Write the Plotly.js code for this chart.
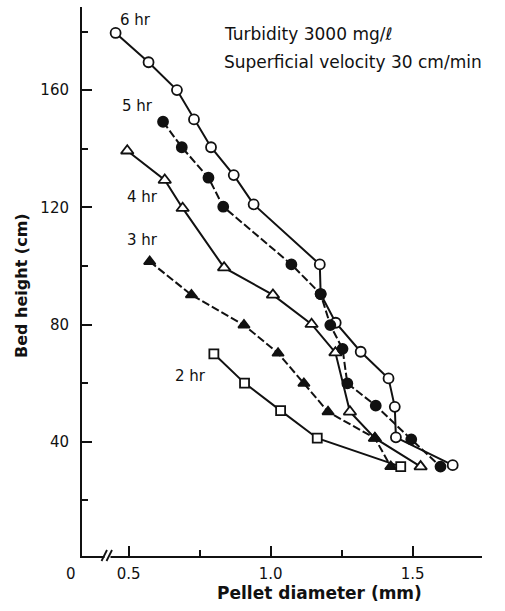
<!DOCTYPE html>
<html>
<head>
<meta charset="utf-8">
<script src="https://cdn.plot.ly/plotly-3.0.1.min.js"></script>
<style>html,body{margin:0;padding:0;background:#fff;}#chart{width:505px;height:611px;}</style>
</head>
<body>
<div id="chart"></div>
<script>
// Pellet diameter (mm) and bed height (cm) for each operating time
const x6 = [0.454, 0.57, 0.67, 0.73, 0.79, 0.87, 0.94, 1.173, 1.176, 1.229, 1.317, 1.415, 1.437, 1.441, 1.641];
const y6 = [179.5, 169.5, 160, 150, 140.5, 131, 121, 100.5, 90.4, 80.6, 70.7, 61.6, 51.9, 41.5, 32];
const x5 = [0.621, 0.687, 0.781, 0.833, 1.073, 1.176, 1.21, 1.253, 1.27, 1.37, 1.495, 1.598];
const y5 = [149.2, 140.5, 130.1, 120.2, 100.5, 90.4, 79.8, 71.7, 59.9, 52.3, 40.8, 31.5];
const x4 = [0.495, 0.627, 0.69, 0.836, 1.008, 1.144, 1.228, 1.279, 1.367, 1.528];
const y4 = [139.3, 129.3, 119.7, 99.4, 90.1, 80.1, 70.4, 50.2, 41.2, 31.5];
const x3 = [0.574, 0.721, 0.906, 1.026, 1.117, 1.202, 1.367, 1.423];
const y3 = [101.5, 90.1, 79.8, 70.2, 59.9, 50.2, 41.2, 31.5];
const x2 = [0.80, 0.908, 1.035, 1.164, 1.458];
const y2 = [70, 60, 50.6, 41.2, 31.5];

const seriesLabels = ["6 hr", "5 hr", "4 hr", "3 hr", "2 hr"];
const xTickVals = [0.5, 1.0, 1.5];
const xTickText = ["0.5", "1.0", "1.5"];
const xMinorVals = [0.75, 1.25];
const yTickVals = [40, 80, 120, 160];
const yTickText = ["40", "80", "120", "160"];
const yMinorVals = [20, 60, 100, 140, 180];
const noteLines = ["Turbidity 3000 mg/ℓ", "Superficial velocity 30 cm/min"];

const FONT = "DejaVu Sans, Verdana, sans-serif";
const LW = 2;

function tr(x, y, symbol, fill, dash, size) {
  return {
    x: x, y: y, type: "scatter", mode: "lines+markers", cliponaxis: false,
    line: {color: "#111", width: LW, dash: dash},
    marker: {symbol: symbol, size: size, color: fill, line: {color: "#111", width: 1.8}},
    showlegend: false, hoverinfo: "skip"
  };
}

const data = [
  tr(x4, y4, "triangle-up", "#fff", "solid", 11),
  tr(x3, y3, "triangle-up", "#111", "8px,3px", 10),
  tr(x2, y2, "square", "#fff", "solid", 9),
  tr(x6, y6, "circle", "#fff", "solid", 10),
  tr(x5, y5, "circle", "#111", "8px,3px", 10)
];

function px2x(px) { return 1 + (px - 270.67) / 284; }
function py2y(py) { return (558.9 - py) / 2.93; }

const labelPos = [[135, 19.5], [137, 106], [142, 197], [142, 240], [190, 376]];
const annotations = seriesLabels.map((t, i) => ({
  text: t, x: px2x(labelPos[i][0]), y: py2y(labelPos[i][1]), xref: "x", yref: "y",
  showarrow: false, xanchor: "center", yanchor: "middle",
  font: {family: FONT, size: 15, color: "#111"}
}));
annotations.push({
  text: noteLines[0], x: px2x(222), y: py2y(33.5), xref: "x", yref: "y",
  showarrow: false, xanchor: "left", yanchor: "middle",
  font: {family: FONT, size: 17, color: "#111"}
});
annotations.push({
  text: noteLines[1], x: px2x(222), y: py2y(62), xref: "x", yref: "y",
  showarrow: false, xanchor: "left", yanchor: "middle",
  font: {family: FONT, size: 17, color: "#111"}
});
// axis titles and origin label
annotations.push({
  text: "<b>Pellet diameter (mm)</b>", x: (319 - 82) / 400, y: (556 - 593) / 549,
  xref: "paper", yref: "paper", showarrow: false, xanchor: "center", yanchor: "middle",
  font: {family: FONT, size: 17, color: "#111"}
});
annotations.push({
  text: "<b>Bed height (cm)</b>", x: (21 - 82) / 400, y: (556 - 286) / 549, textangle: -90,
  xref: "paper", yref: "paper", showarrow: false, xanchor: "center", yanchor: "middle",
  font: {family: FONT, size: 16, color: "#111"}
});
annotations.push({
  text: "0", x: (71 - 82) / 400, y: (556 - 573.5) / 549,
  xref: "paper", yref: "paper", showarrow: false, xanchor: "center", yanchor: "middle",
  font: {family: FONT, size: 15, color: "#111"}
});

function pxp(px) { return (px - 82) / 400; }
function pyp(py) { return (556 - py) / 549; }
const shapes = [
  {type: "rect", xref: "paper", yref: "paper", x0: pxp(104.5), x1: pxp(110.5), y0: pyp(560), y1: pyp(552),
   fillcolor: "#fff", line: {width: 0}, layer: "above"},
  {type: "line", xref: "paper", yref: "paper", x0: pxp(101.5), y0: pyp(561), x1: pxp(107), y1: pyp(550),
   line: {color: "#111", width: 1.8}, layer: "above"},
  {type: "line", xref: "paper", yref: "paper", x0: pxp(106.5), y0: pyp(561), x1: pxp(112), y1: pyp(550),
   line: {color: "#111", width: 1.8}, layer: "above"}
];

const layout = {
  width: 505, height: 611,
  margin: {l: 82, r: 23, t: 7, b: 55, pad: 0},
  paper_bgcolor: "#fff", plot_bgcolor: "#fff",
  showlegend: false,
  font: {family: FONT, color: "#111"},
  xaxis: {
    range: [px2x(82), px2x(482)], showgrid: false, zeroline: false,
    showline: true, linecolor: "#111", linewidth: 2,
    ticks: "inside", ticklen: 10, tickwidth: 2, tickcolor: "#111",
    tickmode: "array", tickvals: xTickVals, ticktext: xTickText,
    tickfont: {family: FONT, size: 15, color: "#111"}, ticklabelstandoff: 3,
    minor: {tickmode: "array", tickvals: xMinorVals, ticks: "inside", ticklen: 6, tickwidth: 2, tickcolor: "#111", showgrid: false},
    fixedrange: true
  },
  yaxis: {
    range: [py2y(556), py2y(7)], showgrid: false, zeroline: false,
    showline: true, linecolor: "#111", linewidth: 2,
    ticks: "inside", ticklen: 10, tickwidth: 2, tickcolor: "#111",
    tickmode: "array", tickvals: yTickVals, ticktext: yTickText,
    tickfont: {family: FONT, size: 15, color: "#111"}, ticklabelstandoff: 8,
    minor: {tickmode: "array", tickvals: yMinorVals, ticks: "inside", ticklen: 6, tickwidth: 2, tickcolor: "#111", showgrid: false},
    fixedrange: true
  },
  annotations: annotations,
  shapes: shapes
};

Plotly.newPlot("chart", data, layout, {staticPlot: true, displayModeBar: false});
</script>
</body>
</html>
